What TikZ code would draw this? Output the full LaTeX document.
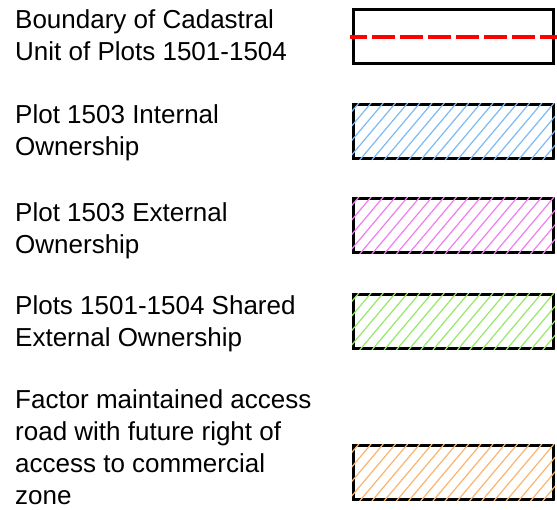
\documentclass[tikz,border=0pt]{standalone}
\usepackage{fontspec}
\setmainfont{Liberation Sans}

\definecolor{hatchblue}{RGB}{125,185,245}
\definecolor{hatchpink}{RGB}{240,125,240}
\definecolor{hatchgreen}{RGB}{150,232,105}
\definecolor{hatchorange}{RGB}{250,180,110}

\tikzset{
	legendtext/.style={anchor=north west, inner sep=0pt, align=left, font=\fontsize{26}{32}\selectfont},
	swatchborder/.style={draw=black, line width=3pt},
	hatchline/.style={line width=1.2pt},
	boundaryline/.style={red, line width=4pt, dash pattern=on 23pt off 5pt, dash phase=6pt}
}

\begin{document}
\begin{tikzpicture}[x=1pt,y=-1pt]
	\useasboundingbox (0,0) rectangle (557,509);
	%Left edge, width and height of every swatch (centre of the border)
	\pgfmathsetmacro{\bx}{353.5}
	\pgfmathsetmacro{\bw}{200}
	\pgfmathsetmacro{\bh}{54}
	%Spacing of the hatch and its run over the height
	\pgfmathsetmacro{\hs}{12.2}
	\pgfmathsetmacro{\hr}{48}

	%Labels
	\node[legendtext] (boundarytext) at (15,9) {Boundary of Cadastral\\Unit of Plots 1501-1504};
	\node[legendtext] (internaltext) at (15,104) {Plot 1503 Internal\\Ownership};
	\node[legendtext] (externaltext) at (15,202) {Plot 1503 External\\Ownership};
	\node[legendtext] (sharedtext) at (15,295) {Plots 1501-1504 Shared\\External Ownership};
	\node[legendtext] (roadtext) at (15,389) {Factor maintained access\\road with future right of\\access to commercial\\zone};

	%Boundary swatch with the red dashed line through its middle
	\draw[swatchborder] (\bx,9.5) rectangle ++(\bw,\bh);
	\draw[boundaryline] (350,36.5) -- (557,36.5);

	%Hatched swatches
	\foreach \t/\c in {104.5/hatchblue, 198.5/hatchpink, 294.5/hatchgreen, 445.5/hatchorange} {
		\draw[swatchborder] (\bx,\t) rectangle ++(\bw,\bh);
		\begin{scope}
			\clip (\bx-1.5,\t-1.5) rectangle ++(\bw+3,\bh+3);
			\foreach \k in {0,...,22}
				\draw[hatchline,\c] (346.7+\k*\hs,\t-1.5) -- ++(-\hr,\bh+3);
		\end{scope}
	}
\end{tikzpicture}
\end{document}
